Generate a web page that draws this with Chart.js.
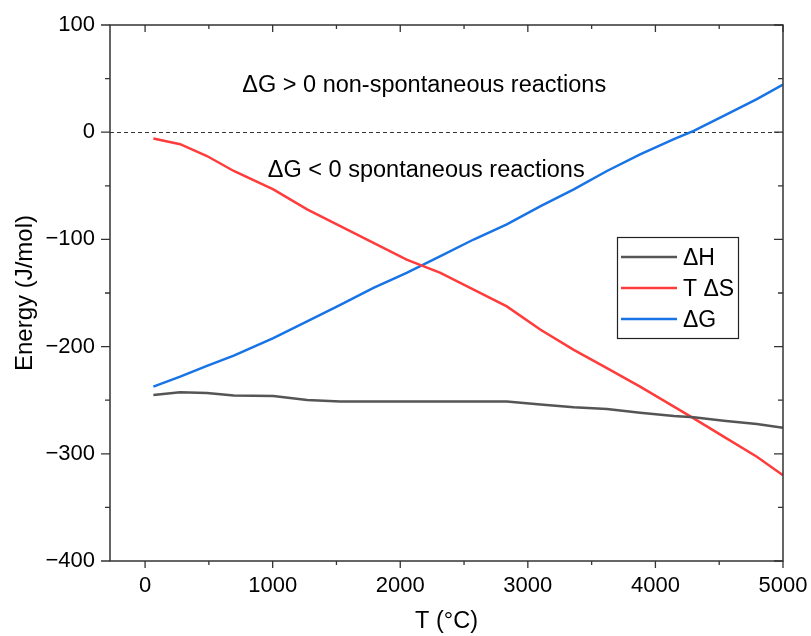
<!DOCTYPE html>
<html>
<head>
<meta charset="utf-8">
<script src="https://cdn.jsdelivr.net/npm/chart.js@4.4.1/dist/chart.umd.min.js"></script>
<style>
  html, body { margin: 0; padding: 0; background: #ffffff; }
  #wrap { width: 811px; height: 636px; position: relative; }
</style>
</head>
<body>
<div id="wrap"><canvas id="c" width="811" height="636"></canvas></div>
<script>
// ---- data ----
const temperatures = [65, 275, 485, 695, 1005, 1270, 1530, 1790, 2050, 2315, 2575, 2835, 3100, 3360, 3620, 3880, 4145, 4300, 4535, 4795, 5000];
const deltaH  = [-245.1, -242.6, -243.2, -245.7, -246.0, -249.8, -251.3, -251.3, -251.3, -251.3, -251.3, -251.3, -254.0, -256.5, -258.3, -261.6, -264.8, -266.0, -269.1, -272.2, -275.6];
const tDeltaS = [-5.9, -11.2, -22.2, -36.2, -53.3, -72.0, -87.6, -103.2, -118.8, -131.3, -146.9, -162.5, -184.3, -203.0, -220.1, -237.3, -256.0, -266.9, -284.0, -302.8, -320.0];
const deltaG  = [-237.3, -228.0, -218.0, -208.5, -192.0, -176.5, -161.0, -145.3, -131.3, -115.7, -100.1, -86.0, -68.9, -53.3, -36.2, -20.6, -6.5, 1.2, 15.2, 30.9, 44.5];
const seriesNames = ['ΔH', 'T ΔS', 'ΔG'];
const xTickValues = [0, 1000, 2000, 3000, 4000, 5000];
const yTickValues = [-400, -300, -200, -100, 0, 100];
const annotationTexts = ['ΔG > 0 non-spontaneous reactions', 'ΔG < 0 spontaneous reactions'];

const COLORS = ['#555555', '#ff3c3c', '#1874e6'];
const FONT = '"Liberation Sans", Arial, sans-serif';

function pts(vals) { return temperatures.map((t, i) => ({ x: t, y: vals[i] })); }

const framePlugin = {
  id: 'frame',
  beforeDatasetsDraw(chart) {
    const { ctx, chartArea: a, scales: { y } } = chart;
    const y0 = Math.round(y.getPixelForValue(0)) + 0.5;
    ctx.save();
    ctx.strokeStyle = '#333';
    ctx.lineWidth = 1;
    ctx.setLineDash([4, 3]);
    ctx.beginPath();
    ctx.moveTo(a.left, y0);
    ctx.lineTo(a.right, y0);
    ctx.stroke();
    ctx.restore();
  },
  afterDatasetsDraw(chart) {
    const { ctx, chartArea: a, scales: { x, y } } = chart;
    ctx.save();
    ctx.strokeStyle = '#333';
    ctx.lineWidth = 1.5;
    ctx.strokeRect(a.left, a.top, a.right - a.left, a.bottom - a.top);
    ctx.lineWidth = 1.3;
    ctx.beginPath();
    for (let v = 0; v <= 5000; v += 500) {
      const px = x.getPixelForValue(v);
      const major = v % 1000 === 0;
      const L = major ? 7 : 4;
      ctx.moveTo(px, a.bottom); ctx.lineTo(px, a.bottom + L);
      ctx.moveTo(px, a.top); ctx.lineTo(px, a.top + L);
    }
    for (let v = -400; v <= 100; v += 50) {
      const py = y.getPixelForValue(v);
      const major = v % 100 === 0;
      const L = major ? 9 : 5;
      ctx.moveTo(a.left, py); ctx.lineTo(a.left - L, py);
      ctx.moveTo(a.right, py); ctx.lineTo(a.right - L, py);
    }
    ctx.stroke();
    ctx.restore();
  },
  afterDraw(chart) {
    const { ctx, scales: { x, y } } = chart;
    ctx.save();
    ctx.fillStyle = '#000';
    ctx.font = '23.5px ' + FONT;
    ctx.textAlign = 'center';
    ctx.textBaseline = 'middle';
    ctx.fillText(annotationTexts[0], x.getPixelForValue(2188), y.getPixelForValue(43.3));
    ctx.fillText(annotationTexts[1], x.getPixelForValue(2204), y.getPixelForValue(-36.2));
    // legend
    const bx = 617, by = 237, bw = 121, bh = 101;
    ctx.strokeStyle = '#222';
    ctx.lineWidth = 1.2;
    ctx.strokeRect(bx + 0.5, by + 0.5, bw, bh);
    ctx.textAlign = 'left';
    ctx.font = '23px ' + FONT;
    chart.data.datasets.forEach((ds, i) => {
      const ry = 257 + i * 31;
      ctx.strokeStyle = ds.borderColor;
      ctx.lineWidth = 2.5;
      ctx.beginPath();
      ctx.moveTo(621, ry); ctx.lineTo(677, ry);
      ctx.stroke();
      ctx.fillStyle = '#000';
      ctx.fillText(ds.label, 683, ry + 2);
    });
    ctx.restore();
  }
};

new Chart(document.getElementById('c'), {
  type: 'line',
  data: {
    datasets: [
      { label: seriesNames[0], data: pts(deltaH), borderColor: COLORS[0] },
      { label: seriesNames[1], data: pts(tDeltaS), borderColor: COLORS[1] },
      { label: seriesNames[2], data: pts(deltaG), borderColor: COLORS[2] }
    ].map(d => Object.assign(d, { borderWidth: 2.5, pointRadius: 0, tension: 0, fill: false }))
  },
  options: {
    responsive: false,
    animation: false,
    devicePixelRatio: 1,
    layout: { padding: { top: 25, right: 28, bottom: 0, left: 0 } },
    plugins: { legend: { display: false }, tooltip: { enabled: false } },
    scales: {
      x: {
        type: 'linear', min: -275, max: 5000,
        grid: { display: false, drawTicks: false },
        border: { display: false },
        afterBuildTicks: s => { s.ticks = xTickValues.map(v => ({ value: v })); },
        afterFit: s => { s.height = 75; s.paddingLeft = 0; s.paddingRight = 0; },
        ticks: { color: '#000', font: { family: FONT, size: 22 }, padding: 12, maxRotation: 0,
                 callback: v => String(v) },
        title: { display: true, text: 'T (°C)', color: '#000', font: { family: FONT, size: 23.5 }, padding: { top: 0, bottom: 0 } }
      },
      y: {
        type: 'linear', min: -400, max: 100,
        grid: { display: false, drawTicks: false },
        border: { display: false },
        afterBuildTicks: s => { s.ticks = yTickValues.map(v => ({ value: v })); },
        afterFit: s => { s.width = 110; s.paddingTop = 0; s.paddingBottom = 0; },
        ticks: { color: '#000', font: { family: FONT, size: 22 }, padding: 15,
                 callback: v => String(v).replace('-', '\u2212') },
        title: { display: true, text: 'Energy (J/mol)', color: '#000', font: { family: FONT, size: 24 }, padding: { top: 11, bottom: 0 } }
      }
    }
  },
  plugins: [framePlugin]
});
</script>
</body>
</html>
